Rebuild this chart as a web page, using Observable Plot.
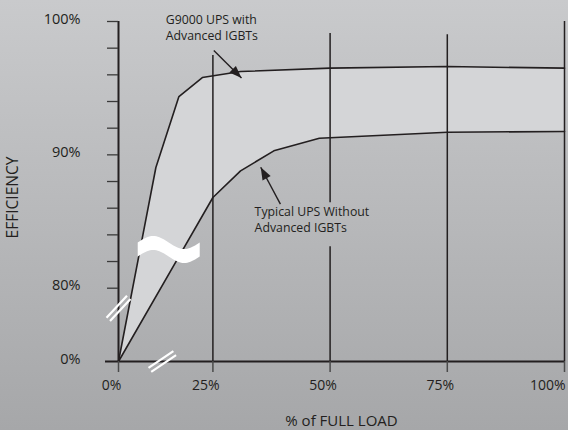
<!DOCTYPE html>
<html><head><meta charset="utf-8">
<script src="https://cdn.jsdelivr.net/npm/d3@7"></script>
<script src="https://cdn.jsdelivr.net/npm/@observablehq/plot@0.6"></script>
<style>
html,body{margin:0;padding:0;}
body{width:568px;height:430px;background:linear-gradient(#c9cacc,#a6a7a9);overflow:hidden;}
</style></head><body><div id="chart"></div>
<script>
// ---- data ----
const loadG9000 = [0, 9.9, 16.0, 22.2, 30.9, 50, 75, 100];
const effG9000  = [0, 89.05, 94.37, 95.8, 96.25, 96.5, 96.62, 96.5];
const loadTypical = [0, 25, 30.9, 38.0, 47.7, 75, 100];
const effTypical  = [0, 86.8, 88.8, 90.3, 91.25, 91.7, 91.75];
const xTicks = [0, 25, 50, 75, 100];
const yTicks = [80, 82, 84, 86, 88, 90, 92, 94, 96, 98, 100];
const yLabels = [0, 80, 90, 100];
const gridLines = [
  {x: 25, y1: 0, y2: 97.45},
  {x: 50, y1: 0, y2: 83.1}, {x: 50, y1: 86.4, y2: 99.1},
  {x: 75, y1: 0, y2: 99.0},
  {x: 100, y1: 0, y2: 100}
];
const notes = [
  {x: 12.5, y: 99.6, text: "G9000 UPS with\nAdvanced IGBTs"},
  {x: 33.9, y: 85.2, text: "Typical UPS Without\nAdvanced IGBTs"}
];
const arrows = [
  {x1: 25.2, y1: 97.83, x2: 31.1, y2: 95.76},
  {x1: 39.4, y1: 86.3, x2: 35.2, y2: 89.07}
];
const yBreak = [{x: 0, y: 58}];
const xBreak = [{x: 11.6, y: 0}];
const waveBreak = [{x: 13.3, y: 82.9}];

// ---- layout ----
const W = 568, H = 430;
const X0 = 118, X25 = 212.4, X100 = 564, Y0 = 361, Y80 = 287.7, Y100 = 21;
const xOpts = {type: "linear", domain: [0, 25, 100], range: [X0, X25, X100]};
const yOpts = {type: "linear", domain: [0, 80, 100], range: [Y0, Y80, Y100]};
const sx = Plot.scale({x: xOpts}), sy = Plot.scale({y: yOpts});
arrows.forEach(a => {
  const dx = sx.apply(a.x2) - sx.apply(a.x1), dy = sy.apply(a.y2) - sy.apply(a.y1);
  a.angle = Math.atan2(dx, -dy) * 180 / Math.PI;
});

const g9000 = loadG9000.map((x, i) => ({x, y: effG9000[i]}));
const typical = loadTypical.map((x, i) => ({x, y: effTypical[i]}));
const band = g9000.concat(typical.slice().reverse());

const ink = "#231f20";
const arrowHead = {draw(ctx) { ctx.moveTo(0, 0); ctx.lineTo(4.6, 12.5); ctx.lineTo(-4.6, 12.5); ctx.closePath(); }};
const doubleSlash = {draw(ctx) {
  ctx.moveTo(-15, -2.4); ctx.lineTo(15, -2.4);
  ctx.moveTo(-15, 2.4); ctx.lineTo(15, 2.4);
}};
const wave = {draw(ctx) {
  const hw = 31, n = 40, amp = 6.5, th = 14;
  for (let i = 0; i <= n; i++) {
    const u = i / n, px = -hw + 2 * hw * u, py = -7 - amp * Math.sin(2 * Math.PI * u);
    if (i === 0) ctx.moveTo(px, py); else ctx.lineTo(px, py);
  }
  for (let i = n; i >= 0; i--) {
    const u = i / n, px = -hw + 2 * hw * u, py = -7 + th - amp * Math.sin(2 * Math.PI * u);
    ctx.lineTo(px, py);
  }
  ctx.closePath();
}};

const chart = Plot.plot({
  width: W, height: H,
  marginLeft: X0, marginRight: W - X100, marginTop: Y100, marginBottom: H - Y0,
  x: xOpts, y: yOpts,
  style: {background: "transparent", fontFamily: "'Open Sans', sans-serif", color: ink},
  marks: [
    Plot.line(band, {x: "x", y: "y", fill: "#d4d5d7", stroke: "none"}),
    Plot.ruleX(gridLines, {x: "x", y1: "y1", y2: "y2", stroke: ink, strokeWidth: 1.5}),
    Plot.line(g9000, {x: "x", y: "y", stroke: ink, strokeWidth: 1.6}),
    Plot.line(typical, {x: "x", y: "y", stroke: ink, strokeWidth: 1.6}),
    Plot.ruleX([0], {x: d => d, y1: 0, y2: 100, stroke: ink, strokeWidth: 2}),
    Plot.ruleY([0], {y: d => d, x1: 0, x2: 100, insetLeft: -13, stroke: ink, strokeWidth: 2}),
    Plot.axisY({ticks: yTicks, tickSize: 11, tickFormat: () => "", label: null, stroke: "#3a3a3a", strokeWidth: 1.3}),
    Plot.axisX({ticks: xTicks, tickSize: 11, tickFormat: () => "", label: null, stroke: "#4a4a4a", strokeWidth: 1.5}),
    Plot.text(yLabels, {x: 0, y: d => d, text: d => `${d}%`, textAnchor: "end", dx: -38, dy: -2.5, fontSize: 14.5, fill: ink}),
    Plot.text(xTicks.filter(d => d < 100), {x: d => d, y: 0, text: d => `${d}%`, dx: -7, dy: 24, fontSize: 14, fill: ink}),
    Plot.text(xTicks.filter(d => d === 100), {x: d => d, y: 0, text: d => `${d}%`, textAnchor: "end", dx: 1, dy: 24, fontSize: 14, fill: ink}),
    Plot.text(notes, {x: "x", y: "y", text: "text", textAnchor: "start", lineAnchor: "middle", lineHeight: 1.3, fontSize: 12.3, fill: ink}),
    Plot.link(arrows, {x1: "x1", y1: "y1", x2: "x2", y2: "y2", stroke: ink, strokeWidth: 1.4}),
    Plot.dot(arrows, {x: "x2", y: "y2", symbol: arrowHead, rotate: "angle", fill: ink, stroke: "none"}),
    Plot.dot(waveBreak, {x: "x", y: "y", symbol: wave, fill: "white", stroke: "none"}),
    Plot.dot(yBreak, {x: "x", y: "y", symbol: doubleSlash, rotate: -47, fill: "none", stroke: "white", strokeWidth: 2.2}),
    Plot.dot(xBreak, {x: "x", y: "y", symbol: doubleSlash, rotate: -34, fill: "none", stroke: "white", strokeWidth: 2.2}),
    Plot.text(["EFFICIENCY"], {frameAnchor: "left", text: d => d, dx: -105, dy: 6, rotate: -90, textAnchor: "middle", lineAnchor: "middle", fontSize: 15.5, fill: ink}),
    Plot.text(["% of FULL LOAD"], {frameAnchor: "bottom", text: d => d, dx: 0, dy: 59.5, textAnchor: "middle", lineAnchor: "middle", fontSize: 15, fill: ink})
  ]
});
document.getElementById("chart").appendChild(chart);
</script></body></html>
